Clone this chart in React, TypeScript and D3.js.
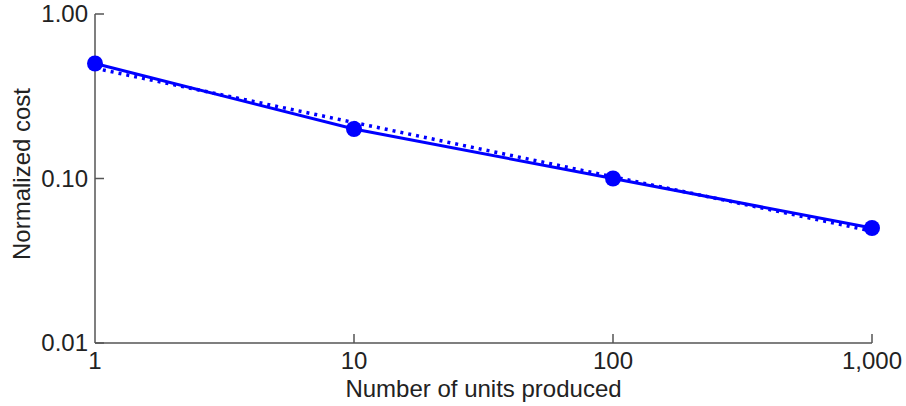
import React from 'react'
import * as d3 from 'd3'

// units produced vs normalized cost (log-log)
const units = [1, 10, 100, 1000]
const costs = [0.5, 0.2, 0.1, 0.05]

const trendUnits = [1, 1000]
const trendCosts = [0.468, 0.0479]

const xTicks = [1, 10, 100, 1000]
const xTickLabels = ['1', '10', '100', '1,000']
const yTicks = [1, 0.1, 0.01]
const yTickLabels = ['1.00', '0.10', '0.01']

const width = 906
const height = 406
const margin = { left: 95, right: 34, top: 14, bottom: 63 }
const blue = '#0000ff'
const axisColor = '#555555'
const font = 'Liberation Sans, Arial, sans-serif'

export default function App() {
  const x = d3
    .scaleLog()
    .domain([1, 1000])
    .range([margin.left, width - margin.right])

  const y = d3
    .scaleLog()
    .domain([0.01, 1])
    .range([height - margin.bottom, margin.top])

  const line = d3
    .line<number>()
    .x((d, i) => x(units[i]))
    .y(d => y(d))

  const trend = d3
    .line<number>()
    .x((d, i) => x(trendUnits[i]))
    .y(d => y(d))

  const x0 = x(1)
  const y0 = y(0.01)

  return (
    <svg
      width={width}
      height={height}
      style={{ position: 'absolute', left: 0, top: 0 }}
      fontFamily={font}
    >
      <rect width={width} height={height} fill="#fff" />

      {/* axes */}
      <line x1={x0} x2={x0} y1={y(1)} y2={y0} stroke={axisColor} strokeWidth={1.5} />
      <line x1={x0} x2={x(1000)} y1={y0} y2={y0} stroke={axisColor} strokeWidth={1.5} />

      {yTicks.map((t, i) => (
        <g key={'y' + i}>
          <line x1={x0} x2={x0 + 9} y1={y(t)} y2={y(t)} stroke={axisColor} strokeWidth={1.5} />
          <text
            x={x0 - 7}
            y={y(t) + 8}
            textAnchor="end"
            fontSize={24}
            fill="#222"
          >
            {yTickLabels[i]}
          </text>
        </g>
      ))}

      {xTicks.map((t, i) => (
        <g key={'x' + i}>
          {i > 0 && (
            <line x1={x(t)} x2={x(t)} y1={y0} y2={y0 - 9} stroke={axisColor} strokeWidth={1.5} />
          )}
          <text x={x(t)} y={y0 + 26} textAnchor="middle" fontSize={24} fill="#222">
            {xTickLabels[i]}
          </text>
        </g>
      ))}

      <text
        x={(x0 + x(1000)) / 2}
        y={397}
        textAnchor="middle"
        fontSize={24}
        fill="#222"
      >
        Number of units produced
      </text>
      <text
        transform={`translate(30, 174) rotate(-90)`}
        textAnchor="middle"
        fontSize={24}
        fill="#222"
      >
        Normalized cost
      </text>

      {/* data */}
      <path d={line(costs) ?? ''} fill="none" stroke={blue} strokeWidth={3} />
      <path
        d={trend(trendCosts) ?? ''}
        fill="none"
        stroke={blue}
        strokeWidth={3.5}
        strokeDasharray="3 5"
      />
      {costs.map((c, i) => (
        <circle key={i} cx={x(units[i])} cy={y(c)} r={8} fill={blue} />
      ))}
    </svg>
  )
}
